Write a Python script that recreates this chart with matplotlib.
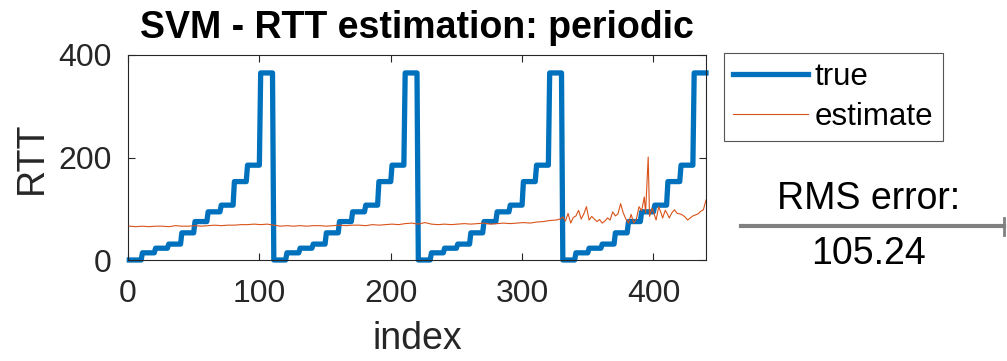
import numpy as np
import matplotlib
matplotlib.use("Agg")
import matplotlib.pyplot as plt
from matplotlib.lines import Line2D

plt.rcParams['font.family'] = ['Liberation Sans', 'DejaVu Sans']

# true RTT: staircase levels, each held for 10 samples, repeated for 4 periods
levels = [0, 14, 23, 31, 53, 75, 94, 107, 153, 185, 365]
hold = 10
periods = 4

# SVM estimate read at selected sample indices
est_index = [1, 6, 11, 16, 21, 26, 31, 36, 41, 46, 51, 56, 61, 66, 71, 76, 81, 86, 91, 96,
             101, 106, 111, 116, 121, 126, 131, 136, 141, 146, 151, 156, 161, 166, 171, 176,
             181, 186, 191, 196, 201, 206, 211, 216, 221, 226, 231, 236, 241, 246, 251, 256,
             261, 266, 271, 276, 281, 286, 291, 296, 301, 306, 311, 316, 321, 326,
             329, 331, 333, 335, 337, 339, 341, 343, 345, 347, 349, 351, 353, 355, 357, 359,
             361, 363, 365, 367, 369, 371, 373, 375, 377, 379, 381, 383, 385, 387, 389, 391,
             393, 394, 396, 397, 399, 401, 402, 404, 406, 407, 409, 411, 412, 414, 416, 418,
             420, 422, 424, 426, 428, 430, 432, 434, 436, 438, 440]
est_value = [66, 65, 66, 65, 66, 66, 65, 67, 66, 66, 67, 66, 67, 68, 67, 68, 68, 69, 69, 70,
             69, 70, 68, 66, 67, 66, 67, 66, 67, 67, 66, 67, 68, 67, 68, 68,
             67, 69, 68, 69, 70, 69, 71, 72, 70, 73, 70, 69, 70, 69, 70, 71,
             70, 71, 72, 70, 71, 72, 71, 72, 73, 72, 74, 75, 77, 78,
             80, 84, 76, 91, 72, 83, 86, 97, 80, 90, 104, 78, 85, 80, 75, 79,
             72, 76, 82, 78, 94, 86, 90, 110, 92, 80, 72, 89, 72, 80, 104, 96,
             123, 92, 201, 85, 101, 86, 78, 104, 90, 82, 97, 88, 82, 92, 98, 91,
             90, 88, 84, 78, 82, 86, 88, 90, 95, 98, 117]

rms_error = 105.24

true_rtt = np.tile(np.repeat(levels, hold), periods)
idx = np.arange(1, len(true_rtt) + 1)

fig = plt.figure(figsize=(10.07, 3.61), dpi=100)
ax = fig.add_axes([128 / 1007, 1 - 260 / 361, 578 / 1007, 205 / 361])

h_true, = ax.plot(idx, true_rtt, color='#0072BD', lw=3.8, label='true',
                  solid_joinstyle='round', clip_on=False, zorder=2)
h_est, = ax.plot(est_index, est_value, color='#D95319', lw=0.8, label='estimate', zorder=3)

ax.set_xlim(0, 440)
ax.set_ylim(0, 400)
ax.set_xticks([0, 100, 200, 300, 400])
ax.set_yticks([0, 200, 400])
ax.tick_params(direction='in', length=5, width=0.8, top=True, right=True,
               labelsize=23, colors='#262626')
ax.tick_params(axis='x', pad=14)
ax.tick_params(axis='y', pad=12)
for s in ax.spines.values():
    s.set_color('#262626')
    s.set_linewidth(0.8)

ax.set_xlabel('index', fontsize=27, color='#262626', labelpad=8)
ax.set_ylabel('RTT', fontsize=27, color='#262626', labelpad=6)
ax.set_title('SVM - RTT estimation: periodic', fontsize=27, fontweight='bold', pad=12)

leg = fig.legend(handles=[h_true, h_est], loc='upper left',
                 bbox_to_anchor=(724 / 1007, 1 - 53 / 361), fontsize=22.5,
                 fancybox=False, framealpha=1, edgecolor='#555555',
                 handlelength=2.4, handletextpad=0.2, labelspacing=0.3,
                 borderpad=0.3, borderaxespad=0)
leg.get_frame().set_linewidth(0.8)

# RMS error as a fraction-like label with a bar
fig.text(869 / 1007, 1 - 199 / 361, 'RMS error:', fontsize=27, ha='center', va='center')
fig.text(868 / 1007, 1 - 254 / 361, f'{rms_error:.2f}', fontsize=27, ha='center', va='center')
bar_y = 1 - 226 / 361
fig.add_artist(Line2D([741 / 1007, 1004 / 1007], [bar_y, bar_y], color='#808080', lw=3))
fig.add_artist(Line2D([1004 / 1007, 1004 / 1007], [1 - 218 / 361, 1 - 235 / 361],
                      color='#808080', lw=2))

fig.savefig('out.png', dpi=100)
